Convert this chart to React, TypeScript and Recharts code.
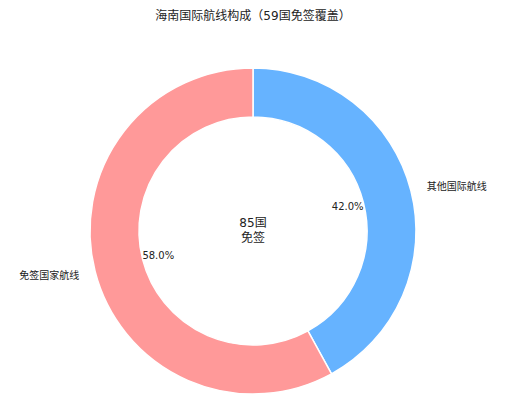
import * as React from "react";
import { Pie, PieChart, Cell } from "recharts";

const categories = ["其他国际航线", "免签国家航线"];
const shares = [42.0, 58.0];
const colors = ["#66b3ff", "#ff9999"];
const centerLines = ["85国", "免签"];
const title = "海南国际航线构成（59国免签覆盖）";

const data = categories.map((name, i) => ({ name, value: shares[i] }));

const FONT = "'DejaVu Sans', 'Noto Sans CJK SC', sans-serif";
const RADIAN = Math.PI / 180;
const CX = 253;
const CY = 231;

// outer category label + inner percent label, placed like matplotlib's labeldistance/pctdistance
const renderLabel = (props: any) => {
  const { cx, cy, midAngle, outerRadius, percent, name } = props;
  const cos = Math.cos(-midAngle * RADIAN);
  const sin = Math.sin(-midAngle * RADIAN);
  const lr = outerRadius * 1.1;
  const pr = outerRadius * 0.6;
  return (
    <g>
      <text
        x={cx + lr * cos}
        y={cy + lr * sin}
        textAnchor={cos >= 0 ? "start" : "end"}
        dominantBaseline="central"
        fontSize={10}
        fill="#222"
        fontFamily={FONT}
      >
        {name}
      </text>
      <text
        x={cx + pr * cos}
        y={cy + pr * sin}
        textAnchor="middle"
        dominantBaseline="central"
        fontSize={10}
        fill="#222"
        fontFamily={FONT}
      >
        {`${(percent * 100).toFixed(1)}%`}
      </text>
    </g>
  );
};

export default function App() {
  return (
    <div style={{ width: 507, height: 414, background: "#fff" }}>
      <style>{`body{margin:0}`}</style>
      <PieChart width={507} height={414} margin={{ top: 0, right: 0, bottom: 0, left: 0 }}>
        <text
          x={CX}
          y={16}
          textAnchor="middle"
          dominantBaseline="central"
          fontSize={12}
          fill="#222"
          fontFamily={FONT}
        >
          {title}
        </text>
        <Pie
          data={data}
          dataKey="value"
          nameKey="name"
          cx={CX}
          cy={CY}
          innerRadius={114}
          outerRadius={163}
          startAngle={90}
          endAngle={-270}
          stroke="#fff"
          strokeWidth={1.5}
          label={renderLabel}
          labelLine={false}
          isAnimationActive={false}
        >
          {data.map((d, i) => (
            <Cell key={d.name} fill={colors[i]} />
          ))}
        </Pie>
        <text textAnchor="middle" fontSize={12} fill="#222" fontFamily={FONT}>
          {centerLines.map((line, i) => (
            <tspan key={line} x={CX} y={CY - 4 + i * 15}>
              {line}
            </tspan>
          ))}
        </text>
      </PieChart>
    </div>
  );
}
